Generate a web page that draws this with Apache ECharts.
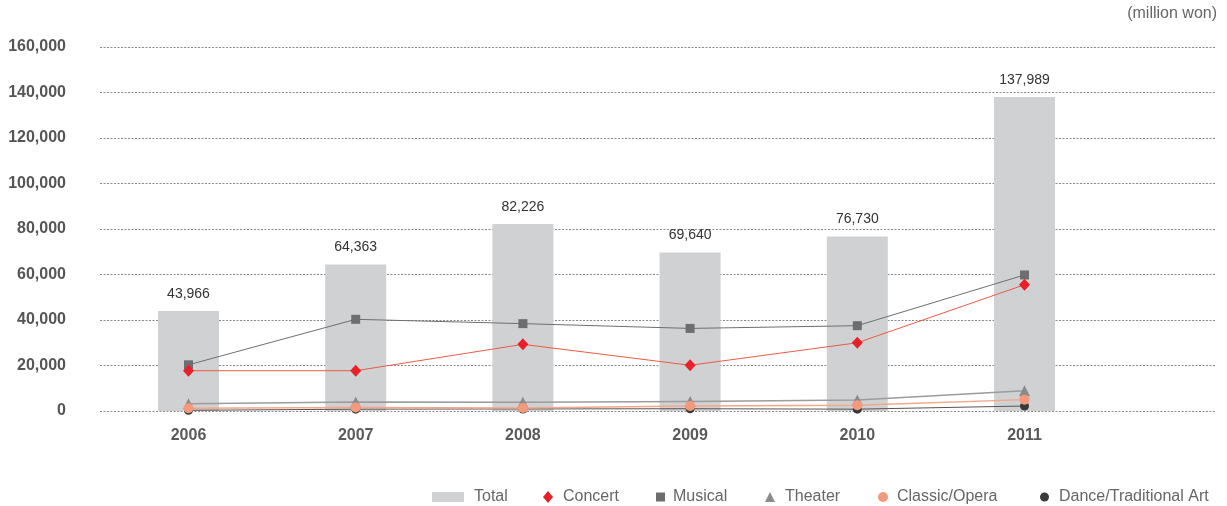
<!DOCTYPE html>
<html>
<head>
<meta charset="utf-8">
<script src="https://cdn.jsdelivr.net/npm/echarts@6/dist/echarts.min.js"></script>
<style>
html,body{margin:0;padding:0;background:#fff;}
#chart{width:1227px;height:506px;}
</style>
</head>
<body>
<div id="chart"></div>
<script>
const years = ['2006','2007','2008','2009','2010','2011'];
const total = [43966, 64363, 82226, 69640, 76730, 137989];
const concert = [17700, 17700, 29300, 20100, 30000, 55500];
const musical = [20300, 40300, 38400, 36300, 37500, 59800];
const theater = [3200, 4000, 3800, 4200, 4800, 8900];
const classicOpera = [1200, 1500, 1300, 2200, 2500, 5000];
const danceTraditional = [300, 800, 900, 1000, 800, 2200];
const yTicks = [0, 20000, 40000, 60000, 80000, 100000, 120000, 140000, 160000];

const fmt = v => Number(v).toLocaleString('en-US');
const FONT = '"Liberation Sans", Arial, sans-serif';

const chart = echarts.init(document.getElementById('chart'));

function legendItem(name, icon, left, w, h, pad) {
  return {
    data: [{name: name, icon: icon}],
    left: left, top: 484,
    itemWidth: w, itemHeight: h,
    textStyle: {fontSize: 16, color: '#666', fontFamily: FONT, padding: [0,0,0,pad]},
    selectedMode: false
  };
}

chart.setOption({
  animation: false,
  textStyle: {fontFamily: FONT},
  graphic: [{
    type: 'text', right: 10, top: 6,
    style: {text: '(million won)', fontSize: 16, fill: '#666', fontFamily: FONT}
  }],
  grid: [
    {left: 104.9, right: 118.9, top: 47, bottom: 95},
    {left: 100, right: 11, top: 47, bottom: 95}
  ],
  xAxis: [
    {type: 'category', gridIndex: 0, data: years,
     axisLine: {show: false}, axisTick: {show: false},
     axisLabel: {margin: 17, fontSize: 16, fontWeight: 'bold', color: '#5a5a5a'}},
    {type: 'value', gridIndex: 1, show: false, min: 0, max: 1}
  ],
  yAxis: [
    {type: 'value', gridIndex: 0, min: 0, max: 160000, interval: 20000, show: false},
    {type: 'value', gridIndex: 1, min: yTicks[0], max: yTicks[yTicks.length-1], interval: 20000,
     axisLine: {show: false}, axisTick: {show: false},
     axisLabel: {margin: 34, fontSize: 16, fontWeight: 'bold', color: '#555', formatter: fmt},
     splitLine: {show: true, lineStyle: {color: '#888', width: 1, type: [2, 1.5]}}}
  ],
  legend: [
    legendItem('Total', 'rect', 427, 32, 10, 5),
    legendItem('Concert', 'diamond', 538, 10, 12, 5),
    legendItem('Musical', 'rect', 651, 9, 9, 3),
    legendItem('Theater', 'triangle', 760, 10, 10, 5),
    legendItem('Classic/Opera', 'circle', 873, 10, 10, 4),
    legendItem('Dance/Traditional Art', 'circle', 1035, 9, 9, 5)
  ],
  series: [
    {name: 'Total', type: 'bar', data: total, barWidth: 61,
     itemStyle: {color: '#d0d1d3'},
     label: {show: true, position: 'top', distance: 10, fontSize: 14, color: '#333', formatter: p => fmt(p.value)},
     z: 1},
    {name: 'Musical', type: 'line', data: musical, symbol: 'rect', symbolSize: 9,
     lineStyle: {color: '#6d6e70', width: 1}, itemStyle: {color: '#6d6e70'}, z: 5},
    {name: 'Concert', type: 'line', data: concert, symbol: 'diamond', symbolSize: [11, 12],
     lineStyle: {color: '#ec5a44', width: 1}, itemStyle: {color: '#e8202a'}, z: 6},
    {name: 'Theater', type: 'line', data: theater, symbol: 'triangle', symbolSize: 11,
     lineStyle: {color: '#9c9c9c', width: 1.5}, itemStyle: {color: '#8a8a8c'}, z: 4},
    {name: 'Classic/Opera', type: 'line', data: classicOpera, symbol: 'circle', symbolSize: 10,
     lineStyle: {color: '#f4a68a', width: 1.5}, itemStyle: {color: '#f39a7c'}, z: 4},
    {name: 'Dance/Traditional Art', type: 'line', data: danceTraditional, symbol: 'circle', symbolSize: 9,
     lineStyle: {color: '#555', width: 1}, itemStyle: {color: '#3a3a3a'}, z: 3}
  ]
});
</script>
</body>
</html>
